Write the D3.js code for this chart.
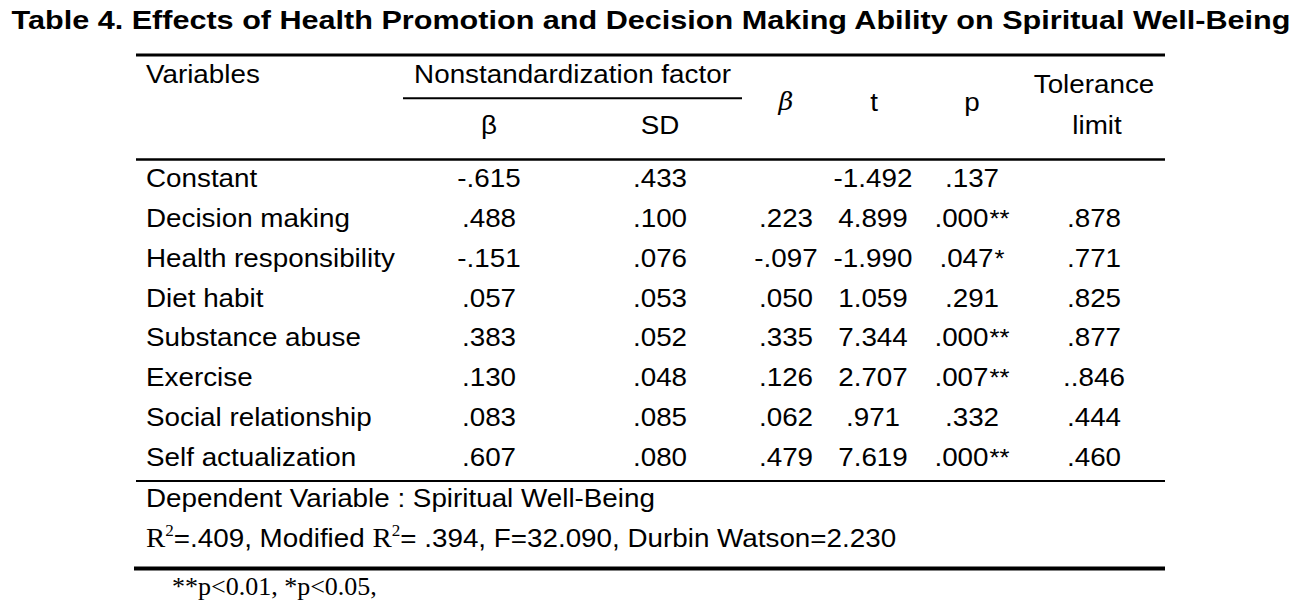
<!DOCTYPE html>
<html>
<head>
<meta charset="utf-8">
<script src="https://cdn.jsdelivr.net/npm/d3@7"></script>
<style>
  html, body { margin: 0; padding: 0; background: #fff; }
  svg { display: block; }
</style>
</head>
<body>
<script>
// ---------- data ----------
const title = "Table 4. Effects of Health Promotion and Decision Making Ability on Spiritual Well-Being";
const variables = ["Constant", "Decision making", "Health responsibility", "Diet habit",
  "Substance abuse", "Exercise", "Social relationship", "Self actualization"];
const coefB = ["-.615", ".488", "-.151", ".057", ".383", ".130", ".083", ".607"];
const coefSD = [".433", ".100", ".076", ".053", ".052", ".048", ".085", ".080"];
const stdBeta = ["", ".223", "-.097", ".050", ".335", ".126", ".062", ".479"];
const tValues = ["-1.492", "4.899", "-1.990", "1.059", "7.344", "2.707", ".971", "7.619"];
const pValues = [".137", ".000", ".047", ".291", ".000", ".007", ".332", ".000"];
const pStars = ["", "**", "*", "", "**", "**", "", "**"];
const tolerance = ["", ".878", ".771", ".825", ".877", "..846", ".444", ".460"];
const columnKeys = ["b", "sd", "beta", "t", "p", "tol"];
const dependentNote = "Dependent Variable : Spiritual Well-Being";
const fitParts = ["=.409, Modified ", "= .394, F=32.090, Durbin Watson=2.230"];
const footnote = "**p<0.01, *p<0.05,";

// ---------- layout ----------
const W = 1309, H = 606;
const SANS = "'Liberation Sans', Arial, sans-serif";
const SERIF = "'Liberation Serif', 'Times New Roman', serif";
const FS = 26;
const SX = 1.07;          // reference glyphs are slightly stretched horizontally
const left = 136, right = 1165;

const svg = d3.select("body").append("svg")
  .attr("width", W).attr("height", H)
  .style("background", "#fff");

function put(sel, x, y, sx) {
  return sel.attr("x", 0).attr("y", 0)
    .attr("transform", `translate(${x},${y}) scale(${sx},1)`);
}

const colX = d3.scaleOrdinal()
  .domain(columnKeys)
  .range([489, 660, 786, 873, 972, 1094]);

const rowY = d3.scaleLinear()
  .domain([0, variables.length - 1])
  .range([187, 466]);

// title
put(svg.append("text"), 651, 29, 1.177)
  .attr("text-anchor", "middle")
  .attr("font-family", SANS).attr("font-weight", "bold").attr("font-size", 26)
  .attr("fill", "#000")
  .text(title);

// rules
const rules = [
  {x1: left, x2: right, y: 55, w: 3},
  {x1: 403, x2: 742, y: 98.2, w: 2},
  {x1: left, x2: right, y: 159.5, w: 2.5},
  {x1: left, x2: right, y: 481, w: 2},
  {x1: left - 2, x2: right, y: 568.5, w: 4}
];
svg.selectAll("line.rule").data(rules).join("line")
  .attr("class", "rule")
  .attr("x1", d => d.x1).attr("x2", d => d.x2)
  .attr("y1", d => d.y).attr("y2", d => d.y)
  .attr("stroke", "#000").attr("stroke-width", d => d.w);

// header
const hdr = svg.append("g")
  .attr("font-family", SANS).attr("font-size", FS).attr("fill", "#000");
put(hdr.append("text"), 146, 83, SX).text("Variables");
put(hdr.append("text"), 572.5, 83, SX).attr("text-anchor", "middle")
  .text("Nonstandardization factor");
put(hdr.append("text"), colX("b"), 134, SX).attr("text-anchor", "middle").text("β");
put(hdr.append("text"), colX("sd"), 134, SX).attr("text-anchor", "middle").text("SD");
put(hdr.append("text"), colX("beta"), 110, SX).attr("text-anchor", "middle")
  .attr("font-family", "'DejaVu Serif', serif").attr("font-style", "italic").attr("font-size", 24)
  .text("β");
put(hdr.append("text"), colX("t") + 1, 111, SX).attr("text-anchor", "middle").text("t");
put(hdr.append("text"), colX("p"), 111, SX).attr("text-anchor", "middle").text("p");
put(hdr.append("text"), colX("tol"), 93, SX).attr("text-anchor", "middle").text("Tolerance");
put(hdr.append("text"), colX("tol") + 3, 134, SX).attr("text-anchor", "middle").text("limit");

// body rows
const rows = variables.map((v, i) => ({
  name: v, b: coefB[i], sd: coefSD[i], beta: stdBeta[i],
  t: tValues[i], p: pValues[i], stars: pStars[i], tol: tolerance[i], i
}));

const body = svg.append("g")
  .attr("font-family", SANS).attr("font-size", FS).attr("fill", "#000");

const rowG = body.selectAll("g.row").data(rows).join("g")
  .attr("class", "row")
  .attr("transform", d => `translate(0,${rowY(d.i)})`);

put(rowG.append("text"), 146, 0, SX).text(d => d.name);

["b", "sd", "beta", "t", "tol"].forEach(k => {
  put(rowG.append("text"), colX(k), 0, SX)
    .attr("text-anchor", "middle")
    .text(d => d[k]);
});

const pText = put(rowG.append("text"), colX("p"), 0, SX)
  .attr("text-anchor", "middle");
pText.append("tspan").text(d => d.p);
pText.append("tspan").attr("dx", 1).attr("font-size", 24).text(d => d.stars);

// notes
const notes = svg.append("g").attr("fill", "#000");
put(notes.append("text"), 146, 507, SX)
  .attr("font-family", SANS).attr("font-size", FS)
  .text(dependentNote);

const fit = put(notes.append("text"), 146, 547, SX)
  .attr("font-family", SANS).attr("font-size", FS);
fit.append("tspan").attr("font-family", SERIF).attr("font-size", 27).text("R");
fit.append("tspan").attr("font-family", SERIF).attr("font-size", 16).attr("dy", -11).text("2");
fit.append("tspan").attr("dy", 11).text(fitParts[0]);
fit.append("tspan").attr("font-family", SERIF).attr("font-size", 27).text("R");
fit.append("tspan").attr("font-family", SERIF).attr("font-size", 16).attr("dy", -11).text("2");
fit.append("tspan").attr("dy", 11).text(fitParts[1]);

put(notes.append("text"), 172, 595, 1.04)
  .attr("font-family", SERIF).attr("font-size", 25)
  .text(footnote);
</script>
</body>
</html>
